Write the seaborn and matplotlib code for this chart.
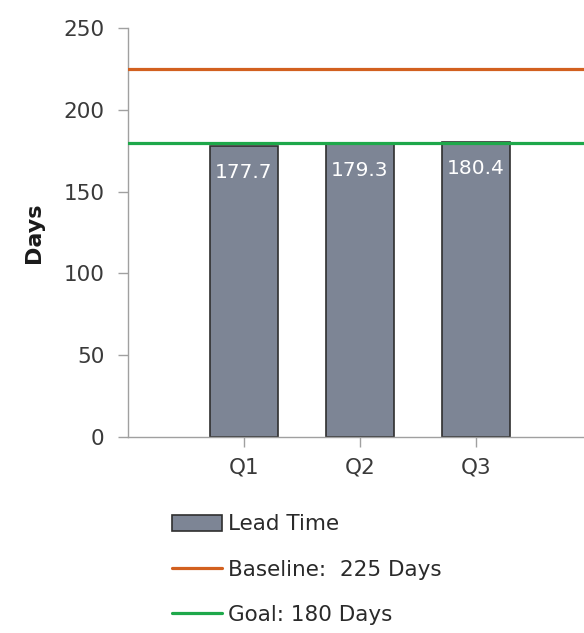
import matplotlib
matplotlib.use('Agg')
import seaborn as sns
import matplotlib.pyplot as plt
from matplotlib.patches import Patch
from matplotlib.lines import Line2D

# dados
quarters = ['Q1', 'Q2', 'Q3']
lead_time = [177.7, 179.3, 180.4]
baseline = 225
goal = 180

sns.set_style('white')
plt.rcParams['font.family'] = ['DejaVu Sans']

fig = plt.figure(figsize=(5.84, 6.33), dpi=100)
ax = fig.add_axes([0.219, 0.3096, 0.781, 0.6462])

sns.barplot(x=quarters, y=lead_time, ax=ax, color='#7d8595', saturation=1,
            width=0.58, edgecolor='#2f2f2f', linewidth=1.2, zorder=2)

ax.axhline(baseline, color='#d2601f', linewidth=2.3, zorder=3)
ax.axhline(goal, color='#1ea84a', linewidth=2.3, zorder=3)

# rótulos dentro das barras
ax.bar_label(ax.containers[0], labels=[f'{v:.1f}' for v in lead_time],
             padding=-26, color='white', fontsize=14.5)

ax.set_xlim(-1, 2.93)
ax.set_ylim(0, 250)
ax.set_yticks([0, 50, 100, 150, 200, 250])
ax.set_ylabel('Days', fontsize=16, fontweight='bold', color='#1a1a1a', labelpad=14)

for side in ['top', 'right']:
    ax.spines[side].set_visible(False)
for side in ['left', 'bottom']:
    ax.spines[side].set_color('#a0a0a0')
    ax.spines[side].set_linewidth(1)

ax.tick_params(axis='both', which='both', direction='out', length=7, width=1,
               left=True, bottom=True,
               colors='#a0a0a0', labelcolor='#3a3a3a', labelsize=15.5)
ax.tick_params(axis='y', pad=10)
ax.tick_params(axis='x', pad=8)

handles = [
    Patch(facecolor='#7d8595', edgecolor='#2f2f2f', linewidth=1.2, label='Lead Time'),
    Line2D([0], [0], color='#d2601f', linewidth=2.3, label='Baseline:  225 Days'),
    Line2D([0], [0], color='#1ea84a', linewidth=2.3, label='Goal: 180 Days'),
]
fig.legend(handles=handles, loc='upper left', bbox_to_anchor=(0.262, 0.218),
           frameon=False, fontsize=15.5, handlelength=2.3, handleheight=0.75,
           handletextpad=0.3, labelspacing=1.18, labelcolor='#2a2a2a')

fig.savefig('out.png', dpi=100)
